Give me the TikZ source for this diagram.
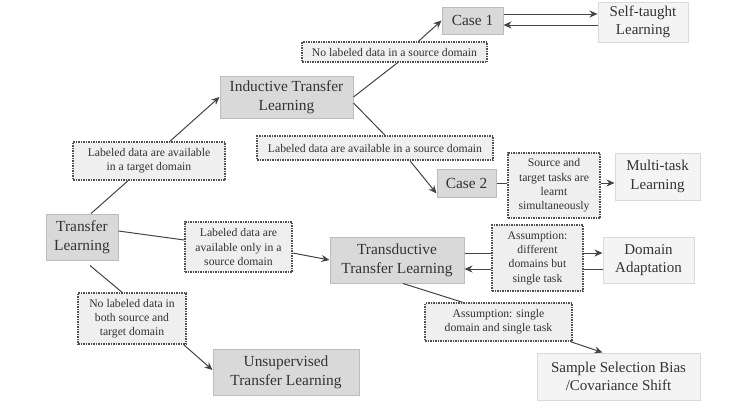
\documentclass[tikz,border=0pt]{standalone}
\usepackage{fontspec}
\setmainfont{Liberation Serif}
\newfontfamily\diagfont{Liberation Serif}
\usetikzlibrary{calc,arrows.meta}
\definecolor{mainfill}{HTML}{D9D9D9}
\definecolor{mainline}{HTML}{BDBDBD}
\definecolor{leaffill}{HTML}{F4F4F4}
\definecolor{leafline}{HTML}{DADADA}
\definecolor{lblfill}{HTML}{EFEFEF}
\definecolor{lblline}{HTML}{505050}
\definecolor{txtcol}{HTML}{333333}
\definecolor{conncol}{HTML}{444444}
\begin{document}
\begin{tikzpicture}[x=1pt,y=-1pt,
  mainbox/.style={draw=mainline, fill=mainfill, line width=1pt, text=txtcol, align=center, inner sep=0pt, font=\diagfont\fontsize{15.4}{19}\selectfont},
  leafbox/.style={draw=leafline, fill=leaffill, line width=1pt, text=txtcol, align=center, inner sep=0pt, font=\diagfont\fontsize{15}{18.5}\selectfont},
  lbl/.style={draw=lblline, fill=lblfill, densely dotted, line width=1.5pt, text=txtcol, align=center, inner sep=0pt, font=\diagfont\fontsize{11.7}{14.3}\selectfont},
  conn/.style={draw=conncol, line width=1pt},
  arr/.style={conn, -{Stealth[length=8pt,width=7pt]}},
]
\fill[white] (0,0) rectangle (740,408);
\useasboundingbox (0,0) rectangle (740,408);

% main boxes
\node[mainbox, minimum width=72pt, minimum height=46pt] (TL) at (82,237) {Transfer\\Learning};
\node[mainbox, minimum width=133pt, minimum height=42pt] (IND) at (286.5,97) {Inductive Transfer\\Learning};
\node[mainbox, minimum width=61pt, minimum height=27pt] (C1) at (472.5,20.5) {Case 1};
\node[mainbox, minimum width=59pt, minimum height=28pt] (C2) at (466.5,183) {Case 2};
\node[mainbox, minimum width=134pt, minimum height=46pt] (TR) at (397,260) {Transductive\\Transfer Learning};
\node[mainbox, minimum width=146pt, minimum height=46pt] (UN) at (286,372) {Unsupervised\\Transfer Learning};

% leaf boxes
\node[leafbox, minimum width=90pt, minimum height=40pt] (ST) at (643,22) {Self-taught\\Learning};
\node[leafbox, minimum width=85pt, minimum height=47pt] (MT) at (657.5,176.5) {Multi-task\\Learning};
\node[leafbox, minimum width=91pt, minimum height=46pt] (DA) at (648.5,260) {Domain\\Adaptation};
\node[leafbox, minimum width=163pt, minimum height=47pt] (SS) at (618.5,376.5) {Sample Selection Bias\\/Covariance Shift};

% labels
\node[lbl, minimum width=185pt, minimum height=20pt] (L1) at (394.5,52) {No labeled data in a source domain};
\node[lbl, minimum width=152pt, minimum height=38pt] (L2) at (149,161) {Labeled data are available\\in a target domain};
\node[lbl, minimum width=236pt, minimum height=24pt] (L3) at (375,148) {Labeled data are available in a source domain};
\node[lbl, minimum width=92pt, minimum height=65pt] (L4) at (554,185.5) {Source and\\target tasks are\\learnt\\simultaneously};
\node[lbl, minimum width=107pt, minimum height=50pt] (L5) at (238.5,247) {Labeled data are\\available only in a\\source domain};
\node[lbl, minimum width=91pt, minimum height=66pt] (L6) at (537.5,258) {Assumption:\\different\\domains but\\single task};
\node[lbl, minimum width=147pt, minimum height=38pt] (L7) at (498.5,322) {Assumption: single\\domain and single task};
\node[lbl, minimum width=108pt, minimum height=51pt] (L8) at (132,318.5) {No labeled data in\\both source and\\target domain};

% connectors: Transfer Learning -> Inductive
\draw[conn] ($(TL.north)+(9,0)$) -- ($(L2.south)+(-21,0)$);
\draw[arr] ($(L2.north)+(21,0)$) -- (IND.west);
% Transfer Learning -> Transductive
\draw[conn] ($(TL.east)+(0,-6)$) -- ($(L5.west)+(0,-7)$);
\draw[arr] ($(L5.east)+(0,6)$) -- (TR.west);
% Transfer Learning -> Unsupervised
\draw[conn] ($(TL.south)+(8,5)$) -- ($(L8.north)+(-10,0)$);
\draw[arr] ($(L8.south east)+(-3,0)$) -- ($(UN.west)+(0,-2)$);
% Inductive -> Case 1
\draw[conn] (IND.east) -- ($(L1.south)+(3,0)$);
\draw[arr] ($(L1.north)+(24,0)$) -- (C1.west);
% Inductive -> Case 2
\draw[conn] ($(IND.east)+(0,6)$) -- ($(L3.north)+(10,0)$);
\draw[arr] ($(L3.south)+(35,0)$) -- ($(C2.south west)+(0,-4)$);
% Case 1 <-> Self-taught
\coordinate (c1a) at ($(C1.east)+(0,-6.5)$);
\coordinate (c1b) at ($(C1.east)+(0,4.5)$);
\draw[arr] (c1a) -- (c1a -| ST.west);
\draw[arr] (c1b -| ST.west) -- (c1b);
% Case 2 -> Multi-task
\draw[conn] (C2.east) -- (C2.east -| L4.west);
\draw[arr] (C2.east -| L4.east) -- (C2.east -| MT.west);
% Transductive <-> Domain Adaptation
\coordinate (tra) at ($(TR.east)+(0,-7)$);
\coordinate (trb) at ($(TR.east)+(0,9)$);
\draw[conn] (tra) -- (tra -| L6.west);
\draw[arr] (tra -| L6.east) -- (tra -| DA.west);
\draw[conn] (trb -| DA.west) -- (trb -| L6.east);
\draw[arr] (trb -| L6.west) -- (trb);
% Transductive -> Sample Selection
\draw[conn] ($(TR.south)+(6,0)$) -- ($(L7.north)+(-36,0)$);
\draw[arr] ($(L7.south east)+(-2,0)$) -- ($(SS.north)+(-16,0)$);
\end{tikzpicture}
\end{document}
